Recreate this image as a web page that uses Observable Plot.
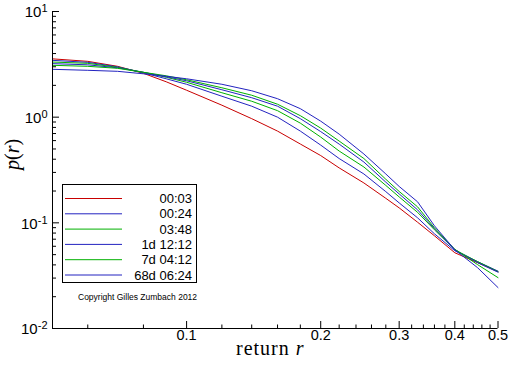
<!DOCTYPE html>
<html><head><meta charset="utf-8">
<script src="https://cdn.jsdelivr.net/npm/d3@7"></script>
<script src="https://cdn.jsdelivr.net/npm/@observablehq/plot@0.6"></script>
<style>body{margin:0;background:#fff}</style>
</head><body><div id="chart"></div>
<script>
// return grid (x axis)
const returns = [0.05,0.06,0.07,0.08,0.09,0.1,0.12,0.14,0.16,0.18,0.2,0.22,0.25,0.28,0.3,0.33,0.36,0.4,0.45,0.5];
// series values p(r)
const s0003 = [3.564,3.376,3.028,2.601,2.162,1.798,1.298,0.968,0.738,0.557,0.433,0.331,0.2384,0.1706,0.1385,0.1013,0.0754,0.0521,0.0420,0.0345];
const s0024 = [3.449,3.303,2.995,2.629,2.308,2.048,1.578,1.270,1.0,0.738,0.544,0.406,0.290,0.1973,0.1544,0.1115,0.0787,0.0544,0.0429,0.0349];
const s0348 = [3.325,3.232,2.963,2.658,2.385,2.139,1.703,1.415,1.152,0.878,0.648,0.478,0.3375,0.2259,0.1759,0.1256,0.0859,0.0556,0.0429,0.0345];
const s1d = [3.211,3.129,2.931,2.658,2.411,2.210,1.817,1.528,1.270,0.968,0.730,0.556,0.376,0.2426,0.1878,0.1327,0.0878,0.0556,0.0420,0.0341];
const s7d = [3.095,3.028,2.899,2.658,2.463,2.259,1.898,1.613,1.326,1.033,0.788,0.594,0.406,0.2584,0.1982,0.1416,0.0897,0.0562,0.0402,0.0303];
const s68d = [2.837,2.776,2.716,2.573,2.437,2.308,2.048,1.778,1.495,1.203,0.917,0.691,0.448,0.290,0.221,0.158,0.0937,0.0556,0.0376,0.0244];
const seriesNames = ["00:03","00:24","03:48","1d 12:12","7d 04:12","68d 06:24"];
const seriesColors = ["#c80000","#2323c0","#00b000","#2323c0","#00b000","#2323c0"];
const seriesValues = [s0003,s0024,s0348,s1d,s7d,s68d];
// ticks
const xMajor = [0.1,0.2,0.3,0.4,0.5];
const xMinor = [0.06,0.08,0.12,0.14,0.16,0.18,0.22,0.24,0.26,0.28,0.32,0.34,0.36,0.38,0.42,0.44,0.46,0.48];
const yMajor = [0.01,0.1,1,10];
const yExp = ["-2","-1","0","1"];
const yMinor = [2,3,4,5,6,7,8,9].flatMap(m => [m*0.01, m*0.1, m]);

const W = 512, H = 366, mL = 52, mR = 14.5, mT = 11, mB = 38;
const fw = W - mL - mR, fh = H - mT - mB;

const data = seriesNames.flatMap((name, i) => returns.map((r, j) => ({series: name, r, p: seriesValues[i][j]})));
const yLabels = yMajor.map((v, i) => ({v, label: "10^" + yExp[i]}));

const chart = Plot.plot({
  width: W, height: H, marginLeft: mL, marginRight: mR, marginTop: mT, marginBottom: mB,
  x: {type: "log", domain: [0.05, 0.5], axis: null},
  y: {type: "log", domain: [0.01, 10], axis: null},
  color: {domain: seriesNames, range: seriesColors},
  style: {fontFamily: "Liberation Sans, Arial, sans-serif", background: "white", color: "black"},
  marks: [
    Plot.line(data, {x: "r", y: "p", z: "series", stroke: "series", strokeWidth: 1}),
    Plot.ruleX([0.05], {stroke: "black"}),
    Plot.ruleY([0.01], {stroke: "black", x1: 0.05, x2: 0.5}),
    Plot.tickY(yMajor, {y: d => d, insetRight: fw - 7, stroke: "black"}),
    Plot.tickY(yMinor, {y: d => d, insetRight: fw - 4, stroke: "black"}),
    Plot.tickX(xMajor, {x: d => d, insetTop: fh - 7, stroke: "black"}),
    Plot.tickX(xMinor, {x: d => d, insetTop: fh - 3.5, stroke: "black"}),
    Plot.text(yLabels, {y: "v", text: "label", frameAnchor: "left", textAnchor: "end", dx: -5, dy: 1, fontSize: 15}),
    Plot.text(xMajor, {x: d => d, text: d => String(d), frameAnchor: "bottom", dy: 11, fontSize: 14.5}),
    Plot.text(["return r"], {text: d => d, frameAnchor: "bottom", dx: -5, dy: 26, fontSize: 20, fontFamily: "Liberation Serif, Times New Roman, serif"}),
    Plot.text(["p(r)"], {text: d => d, frameAnchor: "left", dx: -40, rotate: -90, fontSize: 20, fontFamily: "Liberation Serif, Times New Roman, serif"})
  ]
});
document.getElementById("chart").append(chart);

const svg = d3.select(chart.tagName.toLowerCase() === "svg" ? chart : chart.querySelector("svg"));
svg.selectAll("text").each(function() {
  const t = this.textContent;
  const sel = d3.select(this);
  let m;
  if ((m = t.match(/^10\^(-?\d)$/))) {
    sel.text("10");
    sel.append("tspan").attr("dy", "-0.45em").attr("font-size", "11px").text(m[1]);
  } else if (t === "return r") {
    sel.text("return ").attr("letter-spacing", "1px");
    sel.append("tspan").attr("font-style", "italic").text("r");
  } else if (t === "p(r)") {
    sel.text("");
    sel.append("tspan").attr("font-style", "italic").text("p");
    sel.append("tspan").text("(");
    sel.append("tspan").attr("font-style", "italic").text("r");
    sel.append("tspan").text(")");
  }
});

// legend inside plot area
const lg = svg.append("g").attr("font-family", "Liberation Sans, Arial, sans-serif");
lg.append("rect").attr("x", 62.5).attr("y", 184.5).attr("width", 134).attr("height", 98)
  .attr("fill", "white").attr("stroke", "black");
seriesNames.forEach((name, i) => {
  const y = 198.5 + 15.3 * i;
  lg.append("line").attr("x1", 65).attr("x2", 122).attr("y1", y).attr("y2", y)
    .attr("stroke", seriesColors[i]).attr("stroke-width", 1);
  lg.append("text").attr("x", 192).attr("y", y).attr("dy", "0.35em").attr("text-anchor", "end")
    .attr("font-size", 13).text(name);
});
lg.append("text").attr("x", 78).attr("y", 297).attr("dy", "0.35em").attr("text-anchor", "start")
  .attr("font-size", 8.5).text("Copyright Gilles Zumbach 2012");
</script></body></html>
